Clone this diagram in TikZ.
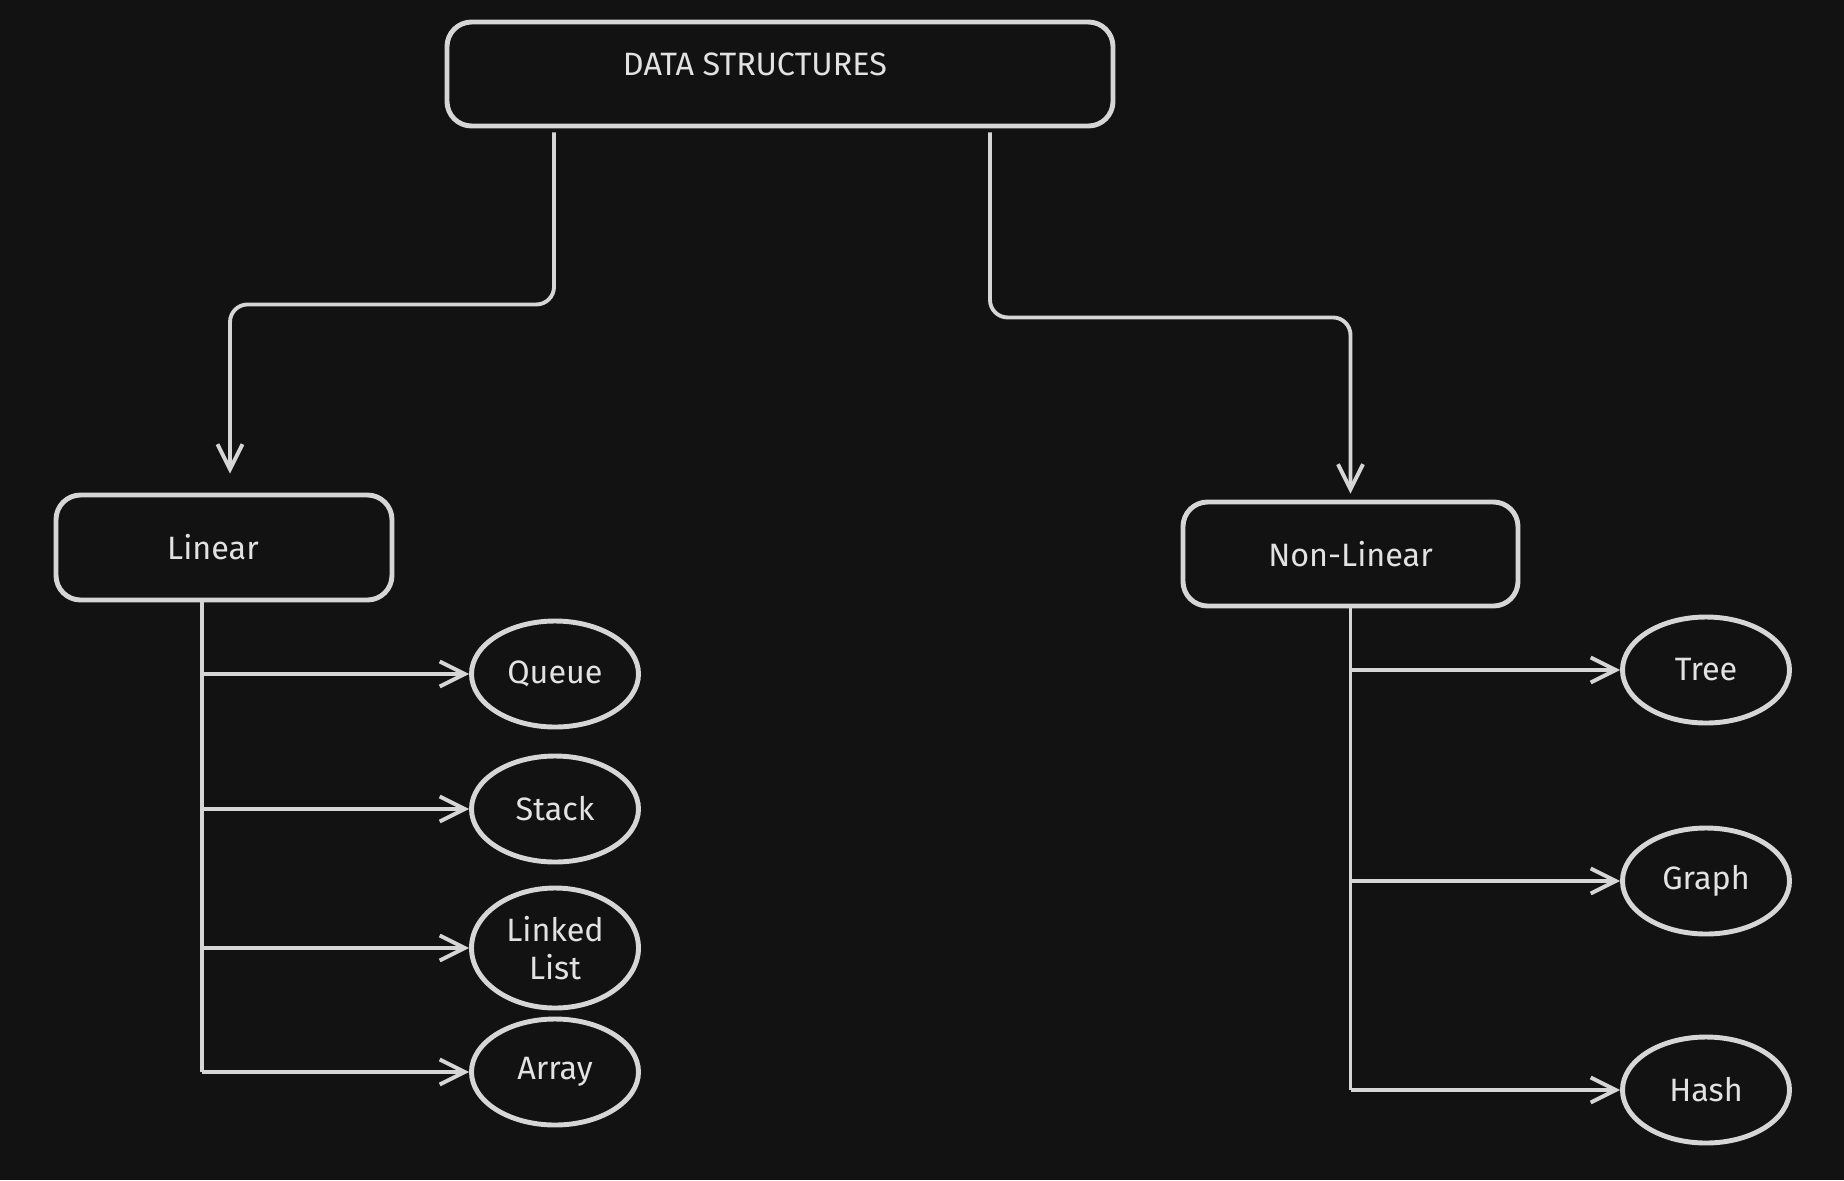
\documentclass[tikz,border=0pt]{standalone}
\usepackage{fontspec}
\setmainfont{Fira Sans}
\usepackage{tikz}
\usetikzlibrary{shapes,arrows.meta}
\usetikzlibrary{calc}
\usetikzlibrary{positioning}
\definecolor{bg_col}{HTML}{121212}
\definecolor{ink_col}{HTML}{D6D6D6}
\definecolor{txt_col}{HTML}{E2E2E2}

\begin{document}
\begin{tikzpicture}[main_box/.style={rectangle,rounded corners=7pt,draw=ink_col,line width=1.4pt,inner sep=0pt},
		leaf_node/.style={ellipse,draw=ink_col,line width=1.4pt,minimum width=1.67cm,minimum height=1.06cm,inner sep=0pt,align=center},
		link/.style={draw=ink_col,line width=1.1pt,-{Straight Barb[length=2.5mm,width=2.5mm]}},
		trunk/.style={draw=ink_col,line width=1.1pt},
		every node/.style={text=txt_col,font=\fontsize{9.2}{11}\selectfont}]

				\fill[bg_col] (0,0) rectangle (18.44,-11.80);
				\useasboundingbox (0,0) rectangle (18.44,-11.80);

				% top and the two groups
				\node[main_box,minimum width=6.66cm,minimum height=1.04cm,label={[xshift=-2.5mm,yshift=1mm]center:DATA STRUCTURES}] (ds) at (7.80, -0.74) {};
				\node[main_box,minimum width=3.36cm,minimum height=1.05cm] (lin) at (2.24, -5.475) {\hspace*{-2.2mm}Linear};
				\node[main_box,minimum width=3.35cm,minimum height=1.04cm] (nonlin) at (13.505, -5.54) {Non-Linear};

				% leaves
				\node[leaf_node] (queue) at (5.55, -6.74) {Queue};
				\node[leaf_node] (stack) at (5.55, -8.09) {Stack};
				\node[leaf_node,minimum height=1.20cm] (llist) at (5.55, -9.48) {Linked\\List};
				\node[leaf_node] (array) at (5.55, -10.72) {Array};

				\node[leaf_node] (tree) at (17.06, -6.70) {Tree};
				\node[leaf_node] (graph) at (17.06, -8.81) {Graph};
				\node[leaf_node] (hash) at (17.06, -10.90) {Hash};

				\coordinate (ds_l) at ([xshift=-22.6mm,yshift=-0.4mm]ds.south);
				\coordinate (ds_r) at ([xshift=21mm,yshift=-0.4mm]ds.south);
				\coordinate (lin_in) at ([xshift=0.6mm]lin.north);
				\coordinate (lin_t) at ([xshift=-2.2mm]lin.south);
				\coordinate (nonlin_t) at (nonlin.south);

				\path[link,rounded corners=5pt]
				(ds_l) -- ++(0,-1.72) -| ([yshift=1.9mm]lin_in);
				\path[link,rounded corners=5pt]
				(ds_r) -- ++(0,-1.85) -| ([yshift=0.6mm]nonlin.north);

				\path[trunk] (lin_t) -- (array.west -| lin_t);
				\path[trunk] (nonlin_t) -- (hash.west -| nonlin_t);

				\path
				(queue.west -| lin_t) edge[link] (queue.west)
				(stack.west -| lin_t) edge[link] (stack.west)
				(llist.west -| lin_t) edge[link] (llist.west)
				(array.west -| lin_t) edge[link] (array.west)
				(tree.west -| nonlin_t) edge[link] (tree.west)
				(graph.west -| nonlin_t) edge[link] (graph.west)
				(hash.west -| nonlin_t) edge[link] (hash.west);
			\end{tikzpicture}
\end{document}
